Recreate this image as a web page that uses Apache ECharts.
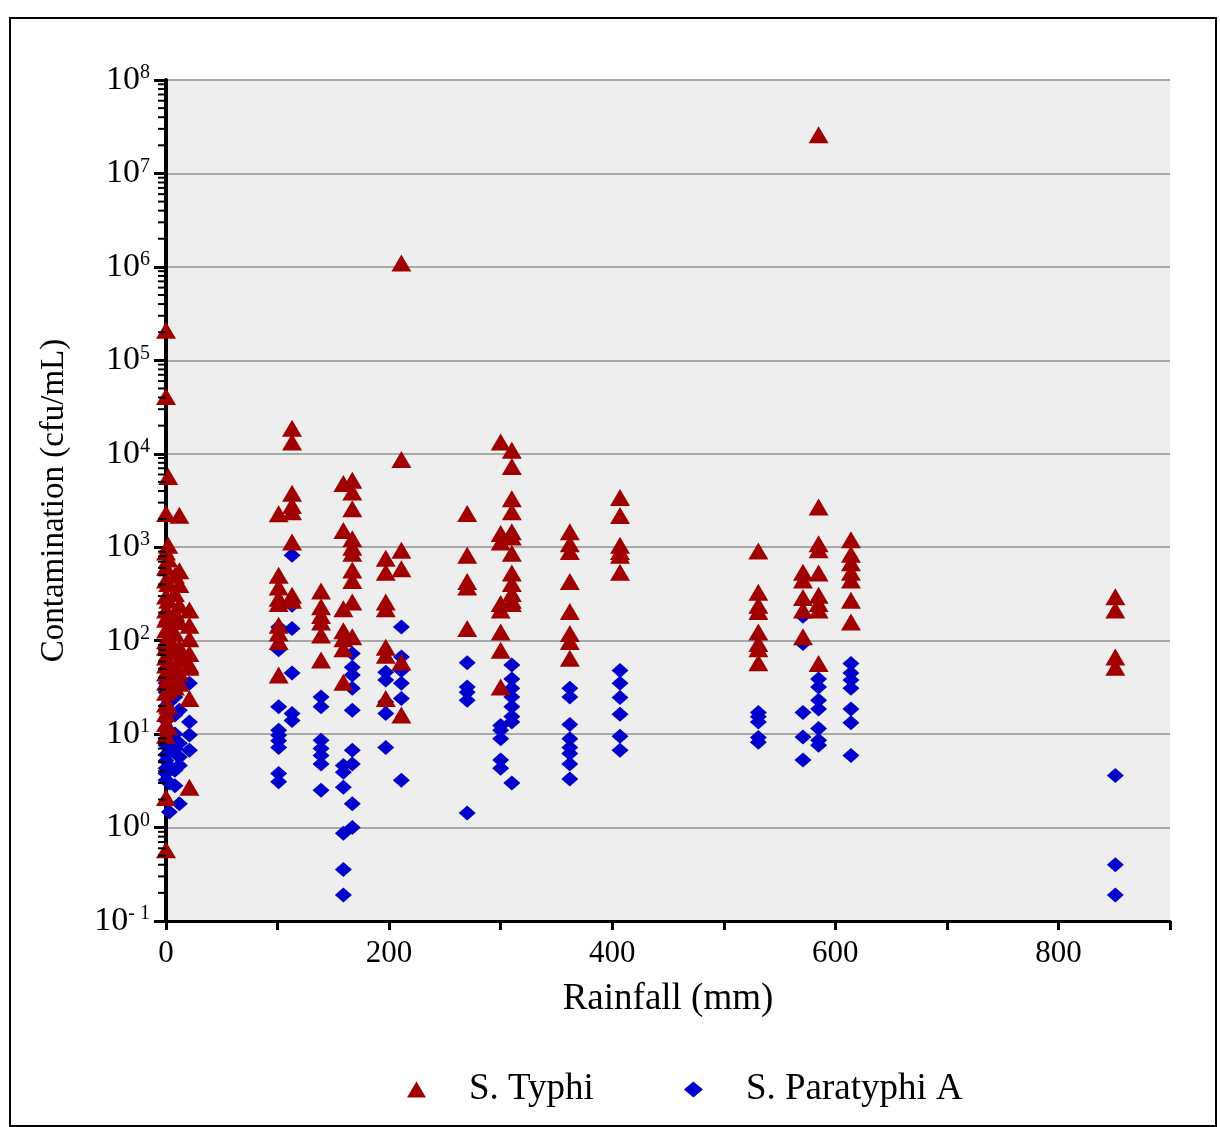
<!DOCTYPE html>
<html>
<head>
<meta charset="utf-8">
<script src="https://cdn.jsdelivr.net/npm/echarts/dist/echarts.min.js"></script>
<style>
html,body{margin:0;padding:0;background:#fff;}
#chart{width:1220px;height:1127px;}
</style>
</head>
<body>
<div id="chart"></div>
<script>
// ---- Data (rainfall mm, contamination cfu/mL) ----
const seriesNames = ['S. Typhi', 'S. Paratyphi A'];
const xTickLabels = ['0', '200', '400', '600', '800'];
const yDecades = [-1, 0, 1, 2, 3, 4, 5, 6, 7, 8];

const typhiPoints = [
  [0,210000],[0,41000],[0,2290],[0,890],[0,610],[0,445],[0,300],[0,213],[0,170],[0,130],[0,100],[0,85],[0,67],[0,55],[0,45],[0,36],[0,28],[0,21],[0,16.6],[0,13],[0,9.7],[0,2.1],[0,0.58],
  [2,5700],[2,1050],[2,750],[2,410],[2,270],[2,190],[2,140],[2,110],[2,75],[2,50],[2,38],[2,30],[2,20],[2,12],
  [8,500],[8,320],[8,200],[8,120],[8,80],[8,50],[8,32],
  [12,2200],[12,560],[12,400],[12,240],[12,160],[12,85],[12,62],[12,45],[12,35],
  [21,213],[21,146],[21,105],[21,73],[21,55],[21,52],[21,24],[21,2.7],
  [101,2275],[101,500],[101,376],[101,285],[101,250],[101,146],[101,121],[101,98],[101,43],
  [113,18800],[113,13400],[113,3780],[113,2800],[113,2390],[113,1140],[113,306],[113,270],
  [139,340],[139,230],[139,186],[139,158],[139,115],[139,62],
  [159,4800],[159,1510],[159,220],[159,128],[159,105],[159,82],[159,36],
  [167,5200],[167,3900],[167,2580],[167,1230],[167,1000],[167,860],[167,570],[167,440],[167,260],[167,110],
  [197,760],[197,540],[197,260],[197,220],[197,85],[197,70],[197,24],
  [211,1100000],[211,8700],[211,930],[211,590],[211,59],[211,16],
  [270,2290],[270,820],[270,430],[270,376],[270,135],
  [300,13400],[300,1400],[300,1140],[300,250],[300,213],[300,124],[300,79],[300,32],
  [310,10900],[310,7300],[310,3300],[310,2390],[310,1460],[310,1290],[310,860],[310,530],[310,410],[310,320],[310,270],[310,250],
  [362,1460],[362,1090],[362,900],[362,430],[362,205],[362,119],[362,98],[362,65],
  [407,3400],[407,2190],[407,1050],[407,900],[407,820],[407,540],
  [531,910],[531,330],[531,240],[531,205],[531,124],[531,93],[531,82],[531,58],
  [571,540],[571,445],[571,290],[571,213],[571,110],
  [585,26000000],[585,2700],[585,1090],[585,940],[585,530],[585,306],[585,250],[585,213],[585,57],
  [614,1200],[614,840],[614,680],[614,540],[614,445],[614,270],[614,158],
  [851,295],[851,213],[851,67],[851,52]
];

const paraPoints = [
  [0,50],[0,35],[0,28],[0,20],[0,14],[0,11],[0,9],[0,7.6],[0,6],[0,5.2],[0,4.3],[0,3.8],[0,3.2],
  [3,30],[3,22],[3,15],[3,9],[3,6.5],[3,4.5],[3,3.0],[3,1.47],
  [8,25],[8,16],[8,10],[8,7],[8,4.1],[8,2.8],
  [12,18],[12,8],[12,5.7],[12,4.6],[12,1.8],
  [21,35],[21,13.5],[21,9.8],[21,6.7],
  [101,140],[101,80],[101,19.6],[101,11],[101,9.7],[101,8.5],[101,7.2],[101,3.8],[101,3.1],
  [113,820],[113,240],[113,135],[113,45],[113,16.6],[113,14],
  [139,25],[139,19.6],[139,8.6],[139,7.0],[139,5.9],[139,4.8],[139,2.5],
  [159,4.6],[159,3.9],[159,2.7],[159,0.87],[159,0.355],[159,0.19],
  [167,73],[167,52],[167,43],[167,31],[167,18],[167,6.7],[167,4.8],[167,1.8],[167,1.0],
  [197,46],[197,38],[197,22],[197,16.6],[197,7.2],
  [211,140],[211,67],[211,48],[211,35],[211,24],[211,3.2],
  [270,58],[270,32],[270,28],[270,23],[270,1.43],
  [300,12.4],[300,11],[300,8.9],[300,5.3],[300,4.3],
  [310,55],[310,39],[310,31],[310,25],[310,19.6],[310,15.4],[310,13.5],[310,3.0],
  [362,31],[362,25],[362,12.7],[362,8.9],[362,7.2],[362,6.2],[362,4.8],[362,3.3],
  [407,48],[407,35],[407,24.6],[407,16.3],[407,9.5],[407,6.7],
  [531,17],[531,15.3],[531,13.5],[531,9.2],[531,8.2],
  [571,182],[571,93],[571,17],[571,9.3],[571,5.3],
  [585,39],[585,32],[585,23],[585,18.6],[585,11.5],[585,8.6],[585,7.6],
  [614,57],[614,45],[614,38],[614,31],[614,18.6],[614,13.2],[614,5.9],
  [851,3.6],[851,0.40],[851,0.19]
];

const FONT = "'Liberation Serif','Times New Roman',serif";
const chart = echarts.init(document.getElementById('chart'), null, {renderer: 'canvas'});

const option = {
  backgroundColor: '#ffffff',
  animation: false,
  graphic: [{
    type: 'rect', z: -10, silent: true,
    shape: {x: 10, y: 18, width: 1206, height: 1108},
    style: {fill: 'none', stroke: '#000', lineWidth: 2}
  }],
  grid: {
    left: 166, right: 50, top: 80, bottom: 206,
    show: true, backgroundColor: '#eeeeee', borderWidth: 0
  },
  legend: {
    data: seriesNames,
    left: 402, top: 1066,
    itemWidth: 19, itemHeight: 16, itemGap: 90,
    textStyle: {fontFamily: FONT, fontSize: 37, color: '#000', padding: [0, 0, 0, 38]}
  },
  xAxis: {
    type: 'value', min: 0, max: 900, interval: 100,
    name: 'Rainfall (mm)', nameLocation: 'middle', nameGap: 60,
    nameTextStyle: {fontFamily: FONT, fontSize: 37, color: '#000'},
    axisLine: {show: true, lineStyle: {color: '#000', width: 3}},
    axisTick: {show: true, length: 9, lineStyle: {color: '#000', width: 3}},
    splitLine: {show: false},
    axisLabel: {
      fontFamily: FONT, fontSize: 31, color: '#000', margin: 17,
      formatter: v => (xTickLabels.indexOf(String(v)) >= 0 ? String(v) : '')
    }
  },
  yAxis: {
    type: 'log', logBase: 10, min: 0.1, max: 1e8, splitNumber: 9, interval: 1,
    name: 'Contamination (cfu/mL)', nameLocation: 'middle', nameGap: 95,
    nameTextStyle: {fontFamily: FONT, fontSize: 33, color: '#000'},
    axisLine: {show: true, lineStyle: {color: '#000', width: 4}},
    axisTick: {show: true, length: 12, lineStyle: {color: '#000', width: 3}},
    splitLine: {show: true, lineStyle: {color: '#a8a8a8', width: 2}},
    axisLabel: {
      margin: 16,
      formatter: v => {
        const e = Math.round(Math.log10(v));
        return '{b|10}{s|' + (e < 0 ? '- ' + (-e) : e) + '}';
      },
      rich: {
        b: {fontFamily: FONT, fontSize: 34, color: '#000', verticalAlign: 'bottom'},
        s: {fontFamily: FONT, fontSize: 20, color: '#000', verticalAlign: 'top'}
      }
    }
  },
  series: [
    {
      name: seriesNames[1], type: 'scatter', data: paraPoints, z: 2,
      symbol: 'diamond', symbolSize: [17, 15],
      itemStyle: {color: '#0000cc', opacity: 1}
    },
    {
      name: seriesNames[0], type: 'scatter', data: typhiPoints, z: 3,
      symbol: 'triangle', symbolSize: [20, 17],
      itemStyle: {color: '#a00000', opacity: 1}
    },
    {
      name: 'minorTicks', type: 'custom', silent: true, clip: false, z: 5,
      data: [[0, 1]],
      renderItem: function (params, api) {
        const children = [];
        for (let i = 0; i < yDecades.length - 1; i++) {
          const k = yDecades[i];
          for (let m = 2; m <= 9; m++) {
            const p = api.coord([0, m * Math.pow(10, k)]);
            children.push({
              type: 'line',
              shape: {x1: p[0] - 8, y1: p[1], x2: p[0], y2: p[1]},
              style: {stroke: '#000', lineWidth: 2}
            });
          }
        }
        return {type: 'group', children: children};
      }
    }
  ]
};
chart.setOption(option);
</script>
</body>
</html>
